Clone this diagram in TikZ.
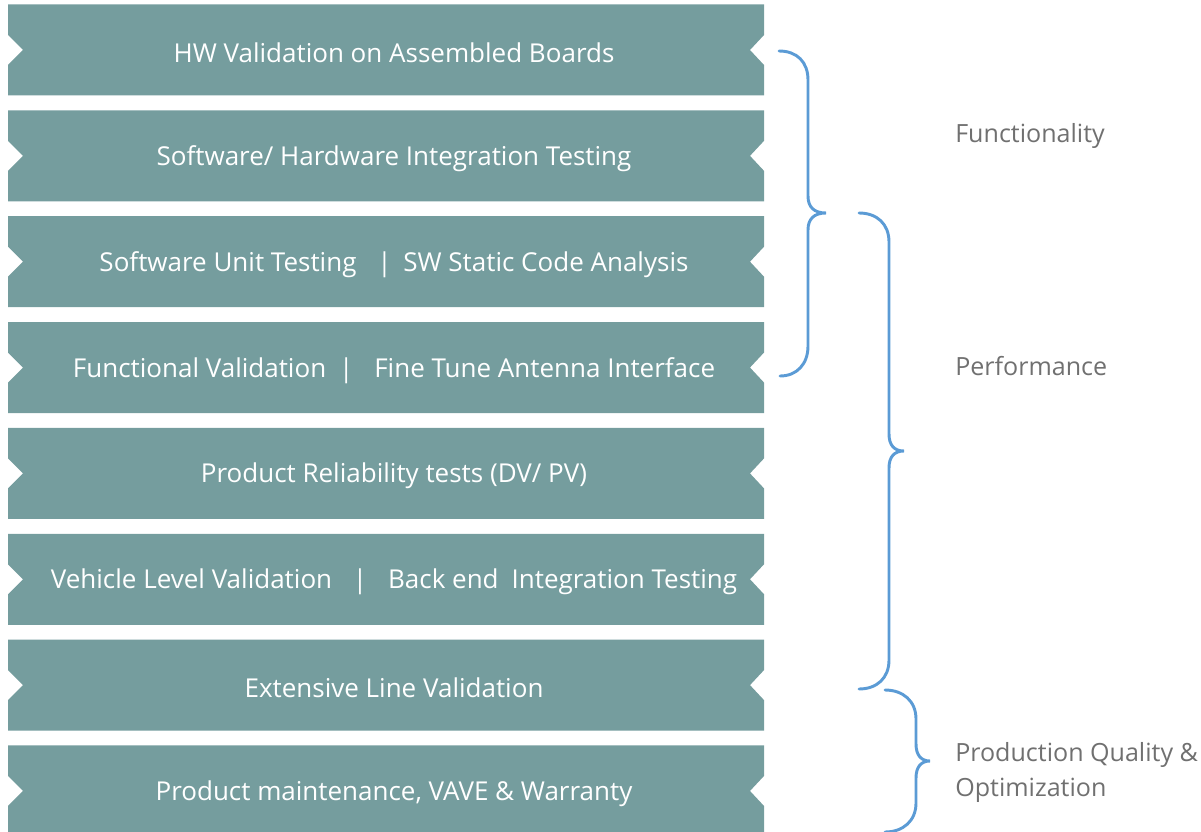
\documentclass[tikz,border=0pt]{standalone}
\usepackage{fontspec}
\setmainfont{Open Sans}
\definecolor{boxteal}{RGB}{117,157,158}
\definecolor{braceblue}{RGB}{91,155,213}
\definecolor{labelgray}{RGB}{112,112,112}
\begin{document}
\begin{tikzpicture}[x=0.75pt,y=-0.75pt,
    stage/.style={fill=boxteal},
    stagetext/.style={text=white, inner sep=0pt, yshift=-2pt, font=\fontsize{19.5}{22}\selectfont},
    bracket/.style={draw=braceblue, line width=2.2pt, line cap=round},
    group/.style={right, inner sep=0pt, yshift=-2.2pt, text=labelgray, align=left, font=\fontsize{18.8}{26.25}\selectfont}]
    \useasboundingbox (0,0) rectangle (1201,831);

    % Stages
    \foreach \yc in {50,155.85,261.7,367.55,473.4,579.25,685.1,790.95}
      \fill[stage] (8,\yc-45.5) -- (764,\yc-45.5) -- (764,\yc-15) -- (750,\yc)
        -- (764,\yc+15) -- (764,\yc+45.5) -- (8,\yc+45.5) -- (8,\yc+15)
        -- (23,\yc) -- (8,\yc-15) -- cycle;

    % Stage labels
    \node[stagetext] (t1) at (394,50) {HW Validation on Assembled Boards};
    \node[stagetext] (t2) at (394,155.85) {Software/ Hardware Integration Testing};
    \node[stagetext] (t3) at (394,261.7) {Software Unit Testing\hspace{0.8em}|\hspace{0.45em}SW Static Code Analysis};
    \node[stagetext] (t4) at (394,367.55) {Functional Validation\hspace{0.5em}|\hspace{0.8em}Fine Tune Antenna Interface};
    \node[stagetext] (t5) at (394,473.4) {Product Reliability tests (DV/ PV)};
    \node[stagetext] (t6) at (394,579.25) {Vehicle Level Validation\hspace{0.8em}|\hspace{0.8em}Back end\hspace{0.5em}Integration Testing};
    \node[stagetext] (t7) at (394,685.1) {Extensive Line Validation};
    \node[stagetext] (t8) at (394,790.95) {Product maintenance, VAVE \& Warranty};

    % Braces
    \draw[bracket] (779,51) .. controls (797,51) and (808,62) .. (808,80) -- (808,196)
      .. controls (808,207) and (814,213) .. (826,213)
      .. controls (814,213) and (808,219) .. (808,230) -- (808,346)
      .. controls (808,364) and (797,376) .. (780,376);
    \draw[bracket] (859,213) .. controls (877,213) and (889,224) .. (889,242) -- (889,434)
      .. controls (889,445) and (894,451) .. (904,451)
      .. controls (894,451) and (889,457) .. (889,468) -- (889,660)
      .. controls (889,678) and (877,689) .. (859,689);
    \draw[bracket] (885,690) .. controls (903,690) and (916,701) .. (916,719) -- (916,744)
      .. controls (916,755) and (921,761) .. (930,761)
      .. controls (921,761) and (916,767) .. (916,778) -- (916,803)
      .. controls (916,821) and (903,832) .. (885,832);

    % Groups
    \node[group] (g1) at (955,133) {Functionality};
    \node[group] (g2) at (955,363) {Performance};
    \node[group] (g3) at (955,769.5) {Production Quality \&\\Optimization};
\end{tikzpicture}
\end{document}
